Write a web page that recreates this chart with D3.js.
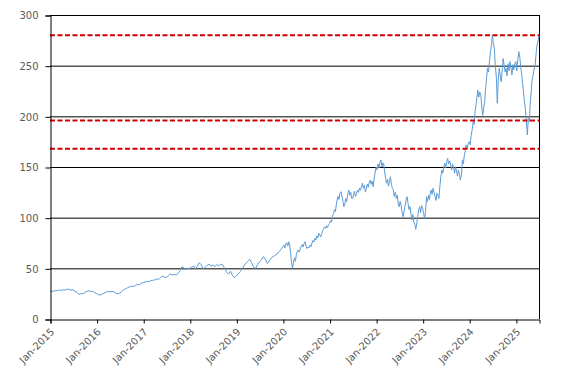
<!DOCTYPE html>
<html>
<head>
<meta charset="utf-8">
<script src="https://cdn.jsdelivr.net/npm/d3@7"></script>
<style>
  html, body { margin: 0; padding: 0; background: #fff; }
  svg { display: block; }
  text { font-family: "DejaVu Sans", sans-serif; fill: #595959; }
</style>
</head>
<body>
<svg id="chart" width="567" height="382"></svg>
<script>
// ---- data: 2015-2019 semi-monthly (1st, 16th), 2020-2025 weekly (1st, 8th, 16th, 23rd) ----
const y2015 = [27, 27.8, 27.2, 28.3, 28, 28.6, 28.2, 28.9, 28.5, 29.6, 29.0, 28.4, 28.8, 27.5, 26.2, 24.3, 25.1, 24.8, 26.3, 27.1, 27.9, 27.0, 27.4, 26.1];
const y2016 = [25.0, 24.0, 23.7, 24.8, 25.6, 26.5, 27.2, 26.6, 27.4, 26.8, 25.5, 24.7, 25.6, 27.1, 29.0, 29.8, 30.9, 31.8, 32.4, 32.0, 33.1, 34.2, 33.6, 35.0];
const y2017 = [35.9, 36.4, 37.2, 36.8, 37.9, 38.2, 38.5, 39.6, 38.9, 40.8, 42.4, 41.3, 41.0, 42.6, 44.4, 43.5, 44.0, 43.4, 45.1, 47.6, 51.6, 50.3, 49.1, 50.0];
const y2018 = [50.0, 51.2, 52.3, 49.3, 52.1, 55.6, 53.4, 49.3, 51.0, 52.6, 54.3, 52.0, 53.2, 51.8, 53.6, 52.5, 54.1, 53.6, 50.0, 46.5, 44.4, 47.2, 43.1, 40.8];
const y2019 = [42.5, 44.8, 46.7, 49.5, 52.3, 55.0, 56.8, 58.9, 55.5, 51.2, 50.0, 53.6, 56.4, 58.2, 61.5, 59.0, 55.0, 57.3, 60.1, 61.5, 62.8, 64.2, 66.4, 68.5];
const y2020 = [71.5, 73, 70, 74, 75.3, 72, 76.2, 73, 66, 57, 50, 55, 60.5, 57, 64, 66.4, 68, 66, 69, 71.8, 73.5, 71, 74.7, 76.3,
               72, 69.5, 71, 70.2, 73, 71.4, 74.8, 77.5, 76, 79.6, 78, 82.1, 80, 84.5, 83, 81, 84, 87.2, 89, 91, 89.5, 92, 90, 93];
const y2021 = [94.4, 97, 95.5, 101, 104, 108, 106, 113, 117.4, 121, 118, 124, 125.6, 121, 116, 110.8, 114, 119, 116, 123, 127.3, 122, 125, 119,
               119, 123, 126, 121, 124, 127.3, 125, 129, 127, 131, 134, 129, 132, 125.6, 128, 133, 130, 135, 137, 133, 136, 130.6, 138, 144];
const y2022 = [150, 147, 153, 149, 155, 157, 150, 154, 153.6, 146, 139, 134, 138, 131, 136, 140.4, 133, 129, 127.3, 121, 125, 119, 122, 114,
               110.8, 116, 112, 106, 101, 106, 112, 117, 120.7, 114, 108, 111, 104, 97.7, 103, 96, 93, 88.5, 95, 101, 108, 110.8, 105, 112];
const y2023 = [109.2, 104, 99.4, 106, 120.7, 116, 122, 118, 124, 127.3, 123, 129, 125, 121, 117, 124, 122, 119, 131, 140, 147, 144, 150, 153.6,
               149, 155, 158.6, 153, 156, 152, 147, 153, 149, 144, 150.3, 146, 141, 147, 143, 137, 142, 157, 153, 161, 166, 171.7, 168, 173];
const y2024 = [175, 172, 181, 186, 194.7, 192, 205, 211, 218, 226, 219, 224, 221, 210, 201, 208, 214, 226, 238, 247.4, 244, 255, 263.8, 270,
               280, 272, 267, 250.7, 238, 212.9, 236, 247.4, 240, 234, 246, 257, 250, 244, 247.4, 240, 252, 245, 254, 248, 240.8, 251, 246, 252];
const y2025 = [254, 245, 256, 263.8, 258, 248, 240.8, 232, 224.3, 215, 208, 196, 181.6, 198, 194.7, 212, 224.3, 236, 240.8, 246, 250.7, 262, 270.4, 274, 280];

const seriesYears = [2015, 2016, 2017, 2018, 2019, 2020, 2021, 2022, 2023, 2024, 2025];
const seriesValues = [y2015, y2016, y2017, y2018, y2019, y2020, y2021, y2022, y2023, y2024, y2025];
const samplesPerMonth = [2, 2, 2, 2, 2, 4, 4, 4, 4, 4, 4];
const sampleDays = { 2: [1, 16], 4: [1, 8, 16, 23] };

const xTickLabels = ["Jan-2015", "Jan-2016", "Jan-2017", "Jan-2018", "Jan-2019", "Jan-2020",
                     "Jan-2021", "Jan-2022", "Jan-2023", "Jan-2024", "Jan-2025"];
const yTicks = [0, 50, 100, 150, 200, 250, 300];
const refLevels = [280, 196, 168];

// ---- build series ----
const data = [];
seriesYears.forEach((yr, k) => {
  const n = samplesPerMonth[k], days = sampleDays[n];
  seriesValues[k].forEach((v, i) => {
    data.push({ date: new Date(yr, Math.floor(i / n), days[i % n]), value: v });
  });
});

// ---- layout ----
const svg = d3.select("#chart");
const mLeft = 50, mRight = 539, mTop = 15, mBottom = 319;

const x = d3.scaleTime()
  .domain([new Date(2015, 0, 1), new Date(2025, 6, 1)])
  .range([mLeft, mRight]);
const y = d3.scaleLinear().domain([0, 300]).range([mBottom, mTop]);

// gridlines
svg.append("g").selectAll("line")
  .data(yTicks.filter(t => t > 0))
  .join("line")
  .attr("x1", mLeft).attr("x2", mRight)
  .attr("y1", d => y(d) + 0.5).attr("y2", d => y(d) + 0.5)
  .attr("stroke", "#000").attr("stroke-width", 1);

// right border
svg.append("line")
  .attr("x1", mRight + 0.5).attr("x2", mRight + 0.5)
  .attr("y1", y(300)).attr("y2", y(0))
  .attr("stroke", "#000");

// series line
const line = d3.line().x(d => x(d.date)).y(d => y(d.value));
svg.append("path")
  .datum(data)
  .attr("d", line)
  .attr("fill", "none")
  .attr("stroke", "#5b9bd5")
  .attr("stroke-width", 1)
  .attr("stroke-linejoin", "round");

// reference dashed lines
svg.append("g").selectAll("line")
  .data(refLevels)
  .join("line")
  .attr("x1", mLeft).attr("x2", mRight)
  .attr("y1", d => y(d)).attr("y2", d => y(d))
  .attr("stroke", "#d00000")
  .attr("stroke-width", 2)
  .attr("stroke-dasharray", "5,2.5");

// y axis
const yAxis = d3.axisLeft(y).tickValues(yTicks).tickSize(5).tickPadding(7);
const gy = svg.append("g").attr("transform", `translate(${mLeft + 0.5},0.5)`).call(yAxis);
gy.select(".domain").attr("stroke", "#000");
gy.selectAll(".tick line").attr("stroke", "#000");
gy.selectAll("text").attr("font-size", 10).attr("font-family", "DejaVu Sans").attr("fill", "#595959");

// x axis
const tickDates = xTickLabels.map((s, i) => new Date(2015 + i, 0, 1));
const xAxis = d3.axisBottom(x).tickValues(tickDates).tickSize(4)
  .tickFormat((d, i) => xTickLabels[i]);
const gx = svg.append("g").attr("transform", `translate(0.5,${mBottom + 0.5})`).call(xAxis);
gx.select(".domain").attr("stroke", "#000");
gx.selectAll(".tick line").attr("stroke", "#000");
gx.selectAll("text")
  .attr("font-size", 10).attr("font-family", "DejaVu Sans").attr("fill", "#595959")
  .attr("text-anchor", "end")
  .attr("dy", null).attr("y", null)
  .attr("transform", "translate(4,13) rotate(-45)");
</script>
</body>
</html>
